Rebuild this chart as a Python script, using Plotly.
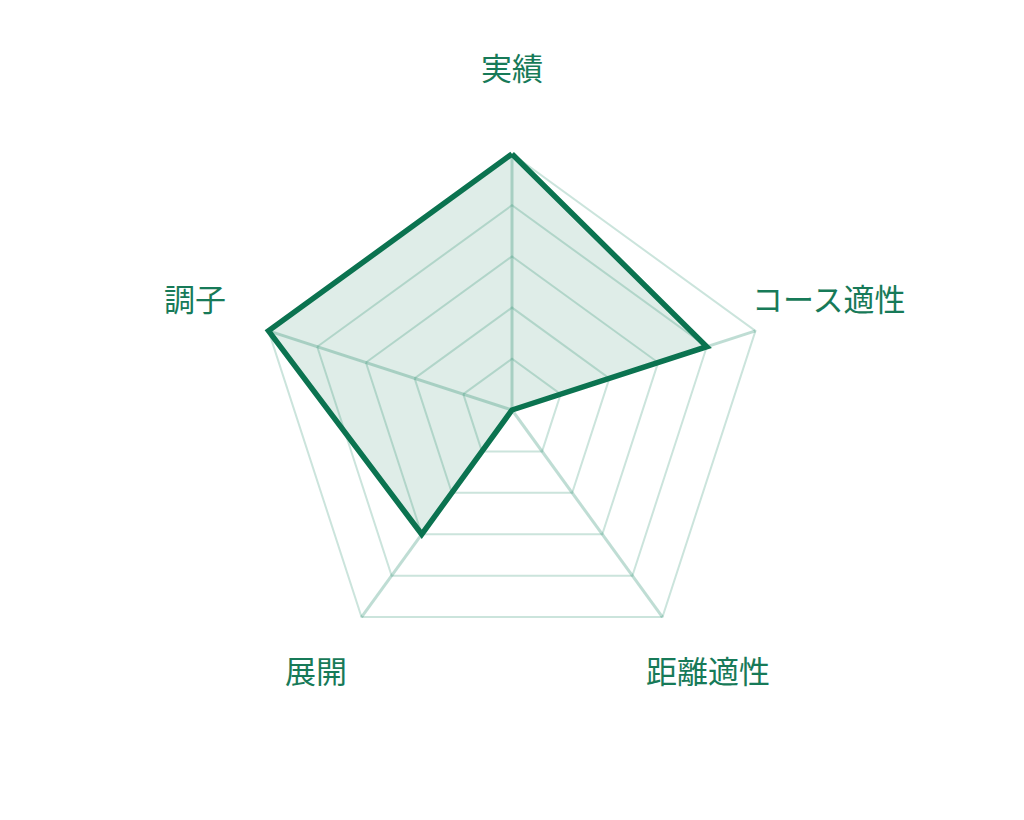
import math
import plotly.graph_objects as go

categories = ["実績", "コース適性", "距離適性", "展開", "調子"]
values = [5, 4, 0, 3, 5]
r_max = 5
grid_levels = [1, 2, 3, 4, 5]

line_color = "#0b7350"
text_color = "#177a58"
font_family = "Noto Sans CJK JP"

W, H = 1024, 820
M = dict(l=92, r=108, t=96, b=112)
plot_w = W - M["l"] - M["r"]
plot_h = H - M["t"] - M["b"]
grid_radius_px = 256
data_scale = 1.1  # data layer uses a slightly larger radial range so the thick line isn't clipped
label_radius_px = 333
label_shift_px = 10

closed_cats = categories + categories[:1]
closed_vals = values + values[:1]

fig = go.Figure()
# invisible trace so the grid subplot is rendered
fig.add_trace(go.Scatterpolar(
    r=closed_vals,
    theta=closed_cats,
    mode="lines",
    line=dict(color="rgba(0,0,0,0)", width=0),
    hoverinfo="skip",
    showlegend=False,
    subplot="polar",
))
fig.add_trace(go.Scatterpolar(
    r=closed_vals,
    theta=closed_cats,
    mode="lines",
    fill="toself",
    fillcolor="rgba(11,115,80,0.13)",
    line=dict(color=line_color, width=5.5, shape="linear"),
    cliponaxis=False,
    hoverinfo="skip",
    showlegend=False,
    subplot="polar2",
))

annotations = []
n = len(categories)
for i, cat in enumerate(categories):
    ang = 2 * math.pi * i / n
    dx = label_radius_px * math.sin(ang)
    dy = label_radius_px * math.cos(ang) + label_shift_px
    annotations.append(dict(
        text=cat,
        x=0.5 + dx / plot_w,
        y=0.5 + dy / plot_h,
        xref="paper", yref="paper",
        xanchor="center", yanchor="middle",
        showarrow=False,
        font=dict(family=font_family, size=31, color=text_color),
    ))

g = grid_radius_px / plot_h
g2 = grid_radius_px * data_scale / plot_h
angular_common = dict(
    rotation=90,
    direction="clockwise",
    type="category",
    categoryorder="array",
    categoryarray=categories,
    showticklabels=False,
    ticks="",
)
grid_col = "rgba(20,130,95,0.22)"
fig.update_layout(
    width=W,
    height=H,
    paper_bgcolor="white",
    plot_bgcolor="white",
    margin=M,
    showlegend=False,
    annotations=annotations,
    polar=dict(
        bgcolor="white",
        gridshape="linear",
        domain=dict(x=[0, 1], y=[0.5 - g, 0.5 + g]),
        radialaxis=dict(
            range=[0, r_max],
            tickvals=grid_levels,
            showticklabels=False,
            ticks="",
            showline=False,
            gridcolor=grid_col,
            gridwidth=2,
        ),
        angularaxis=dict(
            **angular_common,
            showline=True,
            linecolor=grid_col,
            linewidth=2,
            gridcolor="rgba(20,130,95,0.27)",
            gridwidth=2.5,
        ),
    ),
    polar2=dict(
        bgcolor="rgba(0,0,0,0)",
        gridshape="linear",
        domain=dict(x=[0, 1], y=[0.5 - g2, 0.5 + g2]),
        radialaxis=dict(
            range=[0, r_max * data_scale],
            showticklabels=False,
            ticks="",
            showline=False,
            showgrid=False,
        ),
        angularaxis=dict(
            **angular_common,
            showline=False,
            showgrid=False,
        ),
    ),
)

fig.write_html("out.html")
